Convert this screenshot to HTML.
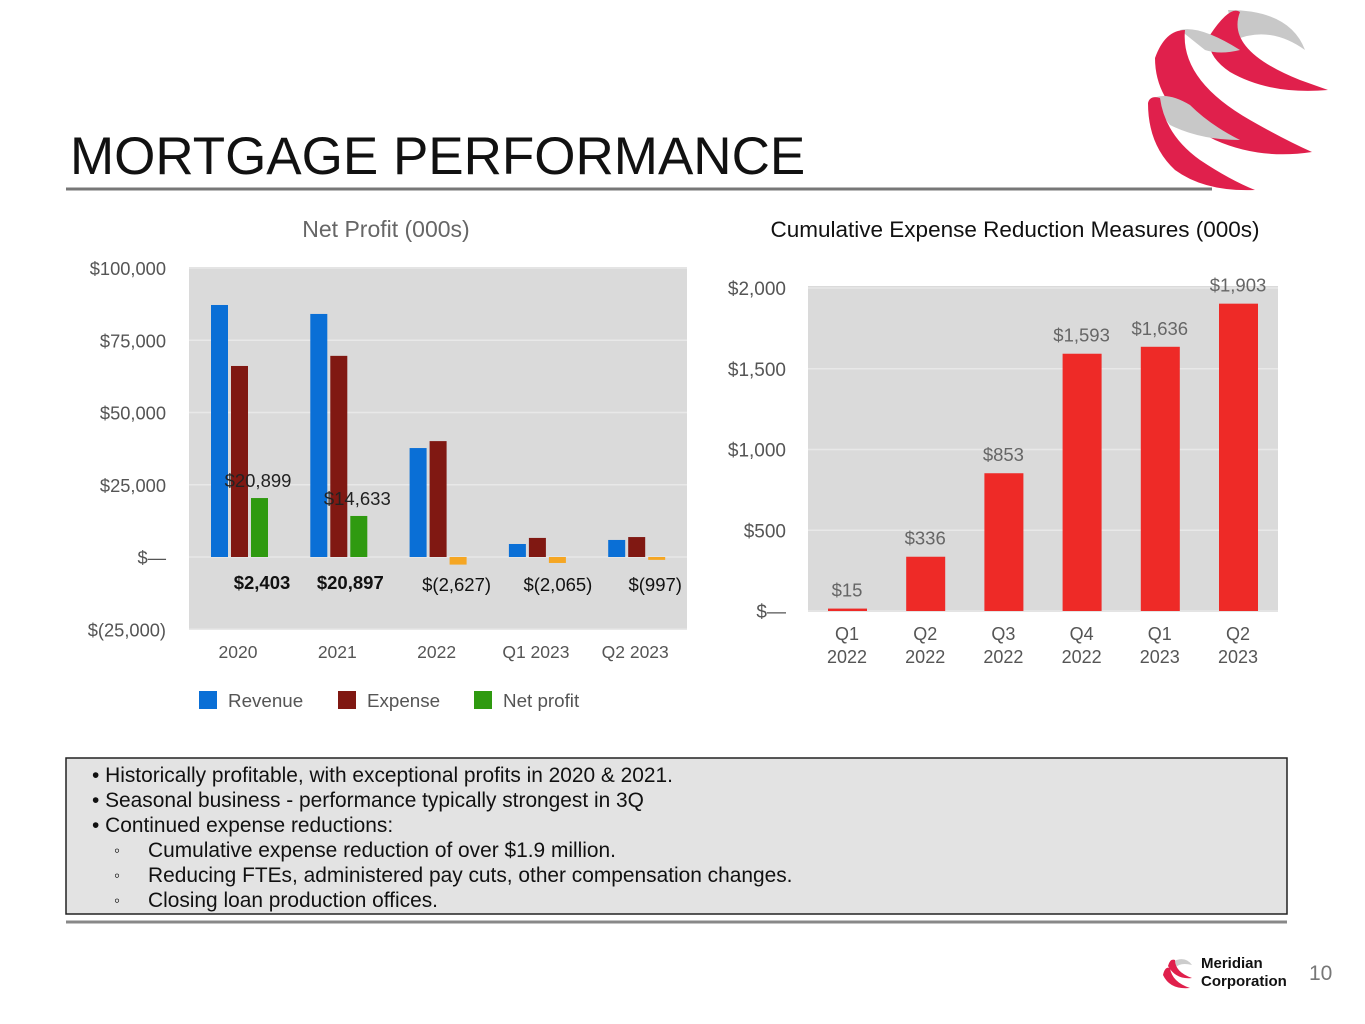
<!DOCTYPE html>
<html><head><meta charset="utf-8"><style>
body{margin:0;width:1365px;height:1024px;background:#fff;font-family:"Liberation Sans",Arial,sans-serif;overflow:hidden;position:relative}
.abs{position:absolute}
#notes div{height:25px;line-height:25px}
#notes span{display:inline-block;width:34px;font-size:17px;line-height:25px;vertical-align:top}
</style></head><body>
<svg class="abs" style="left:0;top:0" width="1365" height="1024">
  <g>
    <path d="M1228 10 Q1290 10 1305 50 Q1270 25 1235 40 Z" fill="#c8c8c8"/>
    <path d="M1210 35 Q1230 5 1240 12 Q1225 50 1300 80 L1328 90 Q1270 95 1230 72 Q1205 55 1210 35Z" fill="#e0204c"/>
    <path d="M1180 30 Q1200 25 1240 50 Q1220 55 1205 50 Z" fill="#c8c8c8"/>
    <path d="M1155 58 Q1165 30 1185 30 Q1180 80 1250 120 Q1285 140 1312 152 Q1260 160 1215 140 Q1155 110 1155 58Z" fill="#e0204c"/>
    <path d="M1150 100 Q1165 90 1190 105 Q1210 125 1240 140 Q1200 140 1170 125Z" fill="#c8c8c8"/>
    <path d="M1148 103 Q1150 95 1160 98 Q1165 135 1200 160 Q1230 180 1255 190 Q1205 192 1175 170 Q1148 145 1148 103Z" fill="#e0204c"/>
  </g>
  <line x1="66" y1="189" x2="1212" y2="189" stroke="#777" stroke-width="3"/>
  <line x1="66" y1="922" x2="1287" y2="922" stroke="#888" stroke-width="3"/>
  <rect x="66" y="758" width="1221" height="156" fill="#e3e3e3" stroke="#222" stroke-width="1.5"/>
  <g>
    <path d="M1172 962 Q1185 955 1192 965 Q1180 962 1175 968Z" fill="#ccc"/>
    <path d="M1168 966 Q1170 958 1175 960 Q1175 972 1192 978 Q1176 980 1168 966Z" fill="#e0204c"/>
    <path d="M1163 975 Q1165 966 1170 968 Q1172 982 1190 988 Q1170 990 1163 975Z" fill="#e0204c"/>
  </g>
  <g id="left"></g>
  <g id="right"></g>
</svg>
<div class="abs" style="left:70px;top:126px;font-size:53px;color:#111;white-space:nowrap">MORTGAGE PERFORMANCE</div>
<div class="abs" style="left:1201px;top:955px;font-size:15px;font-weight:bold;line-height:18px;color:#111">Meridian<br>Corporation</div>
<div class="abs" style="left:1309px;top:962px;font-size:21px;color:#777">10</div>
<div id="notes" class="abs" style="left:92px;top:763px;font-size:20.9px;color:#111;white-space:nowrap">
<div>• Historically profitable, with exceptional profits in 2020 &amp; 2021.</div>
<div>• Seasonal business - performance typically strongest in 3Q</div>
<div>• Continued expense reductions:</div>
<div style="padding-left:22px"><span>◦</span>Cumulative expense reduction of over $1.9 million.</div>
<div style="padding-left:22px"><span>◦</span>Reducing FTEs, administered pay cuts, other compensation changes.</div>
<div style="padding-left:22px"><span>◦</span>Closing loan production offices.</div>
</div>
<script>
const leftCategories=["2020","2021","2022","Q1 2023","Q2 2023"];
const revenue=[87200,84100,37700,4500,5900];
const expense=[66100,69600,40100,6600,6900];
const netProfit=[20400,14200,-2627,-2065,-997];
const netLabels=["$20,899","$14,633","","",""];
const bottomLabels=["$2,403","$20,897","$(2,627)","$(2,065)","$(997)"];
const leftTicks=[100000,75000,50000,25000,0,-25000];
const leftTickLabels=["$100,000","$75,000","$50,000","$25,000","$—","$(25,000)"];
const rightCategories=["Q1|2022","Q2|2022","Q3|2022","Q4|2022","Q1|2023","Q2|2023"];
const reduction=[15,336,853,1593,1636,1903];
const reductionLabels=["$15","$336","$853","$1,593","$1,636","$1,903"];
const rightTicks=[2000,1500,1000,500,0];
const rightTickLabels=["$2,000","$1,500","$1,000","$500","$—"];

const NS="http://www.w3.org/2000/svg";
function mk(p,tag,a,txt){const e=document.createElementNS(NS,tag);for(const k in a)e.setAttribute(k,a[k]);if(txt!==undefined)e.textContent=txt;p.appendChild(e);return e;}

const L=document.getElementById('left');
const ly=v=>557-v*(289/100000);
const lx=i=>238+i*99.3;
const lbg=mk(L,'rect',{x:189,y:267,width:498,height:363,fill:'#dadada'});


const lt=mk(L,'text',{x:386,y:237,'text-anchor':'middle','font-size':23,fill:'#666'},'Net Profit (000s)');


leftTicks.forEach((t,i)=>{
  const gl=mk(L,'line',{x1:189,x2:687,y1:ly(t),y2:ly(t),stroke:'#e8e8e8','stroke-width':1.5});
  
  
  const tl=mk(L,'text',{x:166,y:ly(t)+7,'text-anchor':'end','font-size':18.3,fill:'#555'},leftTickLabels[i]);
  
  
});
const bottomShift=[24,13,20,22,20];
leftCategories.forEach((c,i)=>{
  const cx=lx(i);
  [[revenue[i],'#0a6fd6',-27],[expense[i],'#801812',-7]].forEach(([v,col,off])=>{
    const r=mk(L,'rect',{x:cx+off,y:Math.min(ly(v),ly(0)),width:17,height:Math.abs(ly(v)-ly(0)),fill:col});
    
    
  });
  const n=netProfit[i];
  const nb=mk(L,'rect',{x:cx+13,y:Math.min(ly(n),ly(0)),width:17,height:Math.abs(ly(n)-ly(0)),fill:n>=0?'#2f9a10':'#f5a623'});
  
  
  if(netLabels[i]){const t=mk(L,'text',{x:cx+20,y:ly(n)-11,'text-anchor':'middle','font-size':18.5,fill:'#222'},netLabels[i]);
    
    }
  const b=mk(L,'text',{x:cx+bottomShift[i],y:i<2?589:591,'text-anchor':'middle','font-size':18.5,fill:'#111','font-weight':i<2?'bold':'normal'},bottomLabels[i]);
  
  
  const x=mk(L,'text',{x:cx,y:658,'text-anchor':'middle','font-size':17.5,fill:'#555'},c);
  
  
});
[['Revenue','#0a6fd6',199],['Expense','#801812',338],['Net profit','#2f9a10',474]].forEach(([n,c,x])=>{
  const s=mk(L,'rect',{x:x,y:691,width:18,height:18,fill:c});
  
  
  const t=mk(L,'text',{x:x+29,y:707,'font-size':18.8,fill:'#555'},n);
  
  
});

const R=document.getElementById('right');
const ry=v=>611-v*(323/2000);
const rx=i=>847+i*78.2;
const rbg=mk(R,'rect',{x:808,y:286,width:470,height:326,fill:'#dadada'});


const rt=mk(R,'text',{x:1015,y:237,'text-anchor':'middle','font-size':22.5,fill:'#111'},'Cumulative Expense Reduction Measures (000s)');


rightTicks.forEach((t,i)=>{
  const gl=mk(R,'line',{x1:808,x2:1278,y1:ry(t),y2:ry(t),stroke:'#e8e8e8','stroke-width':1.5});
  
  
  const tl=mk(R,'text',{x:786,y:ry(t)+7,'text-anchor':'end','font-size':19,fill:'#555'},rightTickLabels[i]);
  
  
});
rightCategories.forEach((c,i)=>{
  const cx=rx(i),v=reduction[i];
  const r=mk(R,'rect',{x:cx-19,y:ry(v),width:39,height:ry(0)-ry(v),fill:'#ee2a27'});
  
  
  const t=mk(R,'text',{x:cx,y:ry(v)-12,'text-anchor':'middle','font-size':18.5,fill:'#666'},reductionLabels[i]);
  
  
  const p=c.split('|');
  const a=mk(R,'text',{x:cx,y:640,'text-anchor':'middle','font-size':18,fill:'#555'},p[0]);
  
  
  const b=mk(R,'text',{x:cx,y:663,'text-anchor':'middle','font-size':18,fill:'#555'},p[1]);
  
  
});
</script>
</body></html>
